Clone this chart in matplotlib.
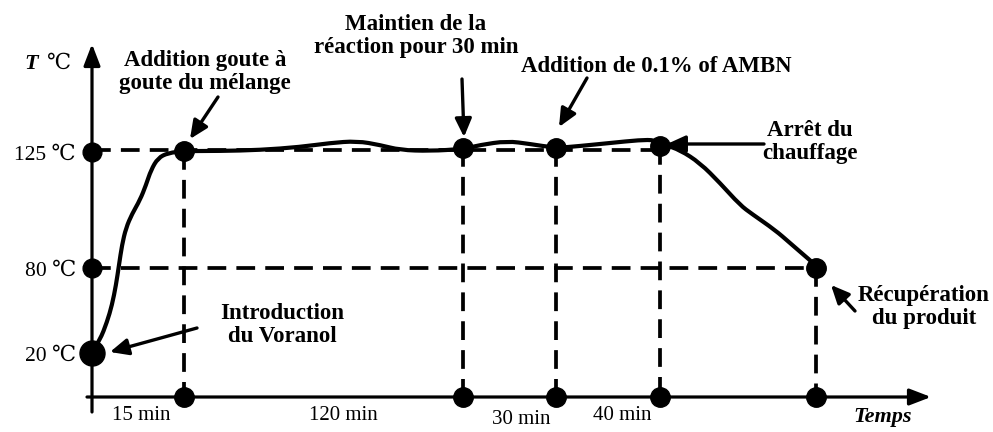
import numpy as np
import matplotlib
matplotlib.use('Agg')
from matplotlib import pyplot as plt
from matplotlib.path import Path
from matplotlib.patches import PathPatch

plt.rcParams['font.family'] = ['Liberation Serif', 'DejaVu Serif']

# schematic positions (drawing units, y grows downward)
axis_x0, axis_y0 = 92, 397
temp_labels = ['125 \u2103', '80 \u2103', '20 \u2103']
temp_levels = [152, 268, 353]
event_x = [184, 463, 556, 660, 816]
event_y = [151, 148, 148, 146, 268]
dur_labels = ['15 min', '120 min', '30 min', '40 min']
dur_x = [141, 343, 521, 622]
dur_y = [416, 416, 420, 416]

# temperature profile
curve_x = [92, 100, 107, 112, 116, 119, 122, 126, 132, 140, 146, 151, 158, 168, 184,
           220, 260, 300, 330, 357, 380, 400, 430, 463,
           480, 507, 530, 556, 580, 610, 640, 655, 665,
           680, 700, 720, 740, 752, 775, 790, 805, 812, 816]
curve_y = [353, 340, 322, 305, 285, 265, 245, 228, 214, 200, 185, 170, 158, 153, 151,
           151, 150, 147, 143, 141, 145, 150, 151, 149,
           145, 141, 144, 148, 146, 143, 140, 140, 145,
           150, 163, 183, 205, 214, 230, 243, 256, 262, 268]

# annotations: text, text position, arrow start, arrow end
notes = [
    ('Addition goute \u00e0\ngoute du m\u00e9lange', (205, 72), (218, 97), (190, 139)),
    ('Maintien de la\nr\u00e9action pour 30 min', (416, 36), (462, 79), (464, 137)),
    ('Addition de 0.1% of AMBN', (656, 67), (587, 78), (559, 127)),
    ('Arr\u00eat du\nchauffage', (810, 142), (764, 144), (667, 144)),
    ('Introduction\ndu Voranol', (282, 325), (197, 328), (110, 352)),
    ('R\u00e9cup\u00e9ration\ndu produit', (924, 307), (855, 311), (831, 285)),
]

fig = plt.figure(figsize=(9.93, 4.32), dpi=100)
ax = fig.add_axes([0, 0, 1, 1])
ax.set_xlim(0, 993)
ax.set_ylim(432, 0)
ax.axis('off')

dash = (0, (5, 2.7))
dlw = 2.7
# horizontal guide lines
ax.plot([axis_x0, event_x[3]], [temp_levels[0] - 2, temp_levels[0] - 2], color='k', lw=dlw, linestyle=dash)
ax.plot([axis_x0, event_x[4]], [temp_levels[1], temp_levels[1]], color='k', lw=dlw, linestyle=dash)
# vertical guide lines
for x, y in zip(event_x, event_y):
    ax.plot([x, x], [y, axis_y0], color='k', lw=dlw, linestyle=dash)

# axes with arrows
ax.annotate('', xy=(931, axis_y0), xytext=(87, axis_y0),
            arrowprops=dict(arrowstyle='-|>,head_length=1.3,head_width=0.5', color='k', lw=2.3,
                            shrinkA=0, shrinkB=0))
ax.annotate('', xy=(axis_x0, 44), xytext=(axis_x0, 412),
            arrowprops=dict(arrowstyle='-|>,head_length=1.3,head_width=0.5', color='k', lw=2.3,
                            shrinkA=0, shrinkB=0))

# curve, smoothed with quadratic segments through midpoints
pts = np.column_stack([curve_x, curve_y]).astype(float)
verts = [pts[0]]
codes = [Path.MOVETO]
for i in range(1, len(pts) - 1):
    verts += [pts[i], (pts[i] + pts[i + 1]) / 2]
    codes += [Path.CURVE3, Path.CURVE3]
verts.append(pts[-1])
codes.append(Path.LINETO)
ax.add_patch(PathPatch(Path(verts, codes), facecolor='none', edgecolor='k', lw=3.0,
                       joinstyle='round', capstyle='round'))

# dots
ax.plot([axis_x0, axis_x0], temp_levels[:2], 'o', color='k', ms=13.5)
ax.plot([axis_x0], [temp_levels[2]], 'o', color='k', ms=18)
ax.plot(event_x, event_y, 'o', color='k', ms=14)
ax.plot(event_x, [axis_y0] * len(event_x), 'o', color='k', ms=14)

# y labels
for lab, y in zip(temp_labels, temp_levels):
    ax.text(76, y + 3, lab, ha='right', va='center', fontsize=15.5)
ax.text(24, 64, 'T', ha='left', va='center', fontsize=16, fontweight='bold', fontstyle='italic')
ax.text(47, 64, '\u2103', ha='left', va='center', fontsize=15.5)

# x labels
for lab, x, y in zip(dur_labels, dur_x, dur_y):
    ax.text(x, y, lab, ha='center', va='center', fontsize=15)
ax.text(912, 417, 'Temps', ha='right', va='center', fontsize=16,
        fontweight='bold', fontstyle='italic')

# annotations
for txt, tpos, a0, a1 in notes:
    ax.text(tpos[0], tpos[1], txt, ha='center', va='center', fontsize=16.5,
            fontweight='bold', linespacing=1.15)
    ax.annotate('', xy=a1, xytext=a0,
                arrowprops=dict(arrowstyle='-|>,head_length=1.1,head_width=0.5', color='k', lw=2.4,
                                shrinkA=0, shrinkB=0))

fig.savefig('out.png', dpi=100)
